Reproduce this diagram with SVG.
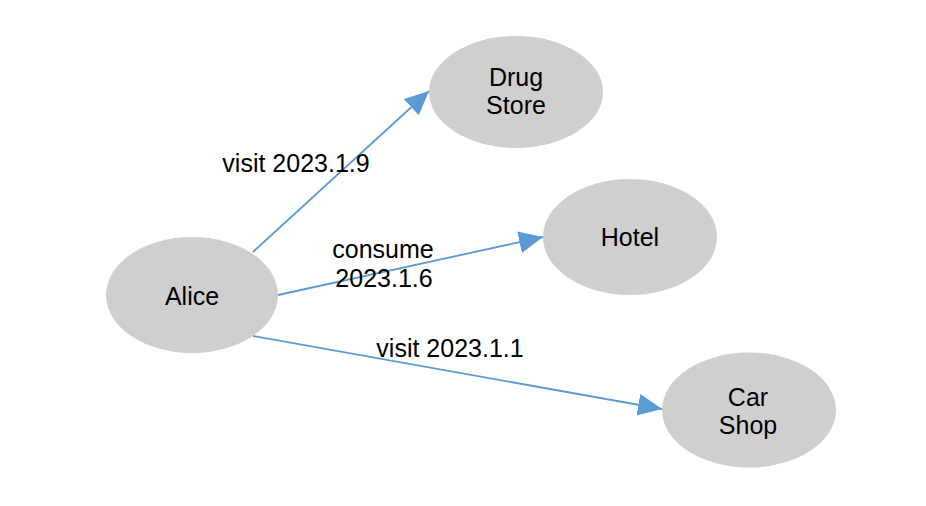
<svg xmlns="http://www.w3.org/2000/svg" width="926" height="506" viewBox="0 0 926 506">
<style>
.node ellipse{fill:#d0cfd0;stroke:none}
.node text,.lbl{font-family:"Liberation Sans",Arial,sans-serif;font-size:25px;fill:#000;text-anchor:middle}
.edge{stroke:#5b9bd5;stroke-width:1.8;fill:none;marker-end:url(#arr)}
</style>
<defs>
<marker id="arr" markerUnits="userSpaceOnUse" markerWidth="26" markerHeight="24" refX="24" refY="11" orient="auto">
<path d="M0,0 L24,11 L0,22 z" fill="#5b9bd5"/>
</marker>
</defs>
<rect width="926" height="506" fill="#fff"/>
<g id="connectors">
<line class="edge" x1="253" y1="252" x2="429" y2="91"/>
<line class="edge" x1="278" y1="295" x2="543" y2="237"/>
<line class="edge" x1="253" y1="336" x2="662" y2="409"/>
<text class="lbl" x="296" y="172">visit 2023.1.9</text>
<text class="lbl" x="383" y="258">consume</text>
<text class="lbl" x="384" y="287">2023.1.6</text>
<text class="lbl" x="450" y="357">visit 2023.1.1</text>
</g>
<g id="alice" class="node">
<ellipse cx="192" cy="295" rx="86" ry="58"/>
<text x="192" y="305">Alice</text>
</g>
<g id="drugstore" class="node">
<ellipse cx="516" cy="92" rx="87" ry="56"/>
<text x="516" y="86">Drug</text>
<text x="516" y="114">Store</text>
</g>
<g id="hotel" class="node">
<ellipse cx="630" cy="237" rx="87" ry="58"/>
<text x="630" y="246">Hotel</text>
</g>
<g id="carshop" class="node">
<ellipse cx="749" cy="410" rx="87" ry="57.5"/>
<text x="748" y="406">Car</text>
<text x="748" y="434">Shop</text>
</g>
</svg>
